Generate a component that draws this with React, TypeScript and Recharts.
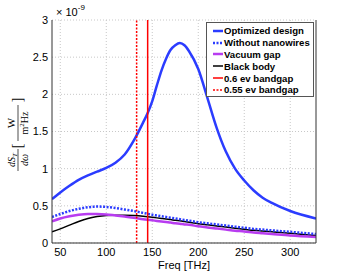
import React from 'react';
import { LineChart, Line, XAxis, YAxis, CartesianGrid, ReferenceLine } from 'recharts';

// Frequencies in THz, values in units of 1e-9 W/(m^2 Hz)
const FREQS = [41, 50, 60, 70, 80, 90, 100, 110, 120, 130, 140, 145, 150, 155, 160, 165, 170, 175, 180, 185, 190, 200, 210, 220, 230, 240, 250, 260, 270, 280, 300, 328];
const OPTIMIZED = [0.59, 0.68, 0.77, 0.85, 0.91, 0.96, 1.01, 1.08, 1.19, 1.38, 1.62, 1.75, 1.91, 2.12, 2.32, 2.48, 2.6, 2.66, 2.69, 2.66, 2.58, 2.34, 1.95, 1.55, 1.23, 1.0, 0.84, 0.71, 0.61, 0.54, 0.43, 0.33];
const NO_NANOWIRES = [0.35, 0.39, 0.43, 0.46, 0.48, 0.49, 0.485, 0.47, 0.45, 0.43, 0.405, 0.393, 0.38, 0.37, 0.36, 0.35, 0.34, 0.33, 0.32, 0.31, 0.3, 0.28, 0.265, 0.25, 0.235, 0.22, 0.205, 0.19, 0.18, 0.17, 0.15, 0.12];
const VACUUM = [0.29, 0.33, 0.36, 0.38, 0.39, 0.39, 0.385, 0.37, 0.355, 0.34, 0.32, 0.312, 0.305, 0.297, 0.29, 0.282, 0.275, 0.265, 0.26, 0.25, 0.245, 0.225, 0.21, 0.195, 0.18, 0.165, 0.155, 0.14, 0.13, 0.12, 0.1, 0.08];
const BLACK_BODY = [0.15, 0.19, 0.24, 0.29, 0.33, 0.355, 0.37, 0.375, 0.375, 0.37, 0.36, 0.353, 0.345, 0.338, 0.33, 0.322, 0.315, 0.305, 0.3, 0.29, 0.28, 0.26, 0.245, 0.23, 0.215, 0.2, 0.185, 0.17, 0.16, 0.15, 0.13, 0.1];
const X_TICKS = [50, 100, 150, 200, 250, 300];
const Y_TICKS = [0, 0.5, 1, 1.5, 2, 2.5, 3];
const BANDGAP_06 = 145;
const BANDGAP_055 = 133;

const BLUE = '#2b3cff';
const PURPLE = '#b83cf0';
const RED = '#ff0000';

const chartData = FREQS.map((f, i) => ({
  freq: f,
  optimized: OPTIMIZED[i],
  noWires: NO_NANOWIRES[i],
  vacuum: VACUUM[i],
  blackBody: BLACK_BODY[i],
}));

const LEGEND_ITEMS = [
  { label: 'Optimized design', color: BLUE, dash: undefined as string | undefined, width: 2.5 },
  { label: 'Without nanowires', color: BLUE, dash: '2 1.5', width: 2.5 },
  { label: 'Vacuum gap', color: PURPLE, dash: undefined, width: 2.5 },
  { label: 'Black body', color: '#000', dash: undefined, width: 1.5 },
  { label: '0.6 ev bandgap', color: RED, dash: undefined, width: 1.5 },
  { label: '0.55 ev bandgap', color: RED, dash: '2 1.5', width: 1.5 },
];

const TICK_STYLE = { fill: '#000', fontSize: 11, fontFamily: 'Liberation Sans, Arial, sans-serif' };

// legend is drawn as an overlay so it does not take space from the plot
const LegendBox = () => (
  <div style={{ position: 'absolute', left: 206, top: 22, width: 108, height: 75, border: '1px solid #555', background: '#fff', boxSizing: 'border-box', padding: '2px 0 0 6px' }}>
    {LEGEND_ITEMS.map((it) => (
      <div key={it.label} style={{ display: 'flex', alignItems: 'center', height: 11.8, fontFamily: 'Liberation Sans, Arial, sans-serif', fontWeight: 'bold', fontSize: 9.6, color: '#000', whiteSpace: 'nowrap' }}>
        <svg width={10} height={6} style={{ marginRight: 1 }}>
          <line x1={0} y1={3} x2={10} y2={3} stroke={it.color} strokeWidth={it.width} strokeDasharray={it.dash} />
        </svg>
        {it.label}
      </div>
    ))}
  </div>
);

// rotated math label plus the x 10^-9 multiplier
const renderYLabel = () => (
  <g>
    <g transform="translate(18,125) rotate(-90)" fontFamily="Liberation Serif, serif" fill="#000">
      <text x={-35} y={-3} fontSize={10} fontStyle="italic" textAnchor="middle">
        dS<tspan fontSize={7} dy={2}>T</tspan>
      </text>
      <line x1={-46} x2={-24} y1={0} y2={0} stroke="#000" strokeWidth={0.7} />
      <text x={-35} y={10} fontSize={10} fontStyle="italic" textAnchor="middle">dω</text>
      <text x={-21} y={4} fontSize={14} textAnchor="middle">[</text>
      <text x={2} y={-3} fontSize={11} textAnchor="middle">W</text>
      <line x1={-16} x2={20} y1={0} y2={0} stroke="#000" strokeWidth={0.7} />
      <text x={2} y={10} fontSize={10} textAnchor="middle">
        m<tspan fontSize={7} dy={-4}>2</tspan><tspan dy={4}>Hz</tspan>
      </text>
      <text x={25} y={4} fontSize={14} textAnchor="middle">]</text>
    </g>
    <text x={56} y={16} fontSize={11} fontFamily="Liberation Sans, Arial, sans-serif" fill="#000">
      × 10<tspan fontSize={8} dy={-6}>-9</tspan>
    </text>
  </g>
);

export default function App() {
  return (
    <div style={{ position: 'absolute', left: 0, top: 0, width: 349, height: 274, background: '#fff' }}>
      <LineChart width={349} height={274} data={chartData} margin={{ top: 20, right: 32, left: 0, bottom: 0 }}>
        <CartesianGrid stroke="#c8c8c8" strokeDasharray="1 2" horizontalValues={Y_TICKS} verticalValues={X_TICKS} />
        <XAxis
          dataKey="freq"
          type="number"
          domain={[41, 328]}
          ticks={X_TICKS}
          allowDataOverflow
          height={31}
          stroke="#333"
          tickLine={false}
          tickSize={3}
          tick={TICK_STYLE}
          label={{ value: 'Freq [THz]', position: 'insideBottom', offset: 5, style: { ...TICK_STYLE, fill: '#000' } }}
        />
        <XAxis xAxisId="top" orientation="top" dataKey="freq" type="number" domain={[41, 328]} height={0} tick={false} tickLine={false} stroke="#333" />
        <YAxis
          type="number"
          domain={[0, 3]}
          ticks={Y_TICKS}
          width={52}
          stroke="#333"
          tickLine={false}
          tickSize={2}
          tick={TICK_STYLE}
          label={{ content: renderYLabel }}
        />
        <YAxis yAxisId="right" orientation="right" type="number" domain={[0, 3]} width={1} tick={false} tickLine={false} stroke="#333" />
        <Line type="monotone" dataKey="blackBody" stroke="#000" strokeWidth={1.5} dot={false} isAnimationActive={false} />
        <Line type="monotone" dataKey="vacuum" stroke={PURPLE} strokeWidth={2.5} dot={false} isAnimationActive={false} />
        <Line type="monotone" dataKey="noWires" stroke={BLUE} strokeWidth={2.5} strokeDasharray="2 1.5" dot={false} isAnimationActive={false} />
        <Line type="monotone" dataKey="optimized" stroke={BLUE} strokeWidth={2.5} dot={false} isAnimationActive={false} />
        <ReferenceLine x={BANDGAP_055} stroke={RED} strokeWidth={1.5} strokeDasharray="2 1.5" />
        <ReferenceLine x={BANDGAP_06} stroke={RED} strokeWidth={1.5} />
      </LineChart>
      <LegendBox />
    </div>
  );
}
